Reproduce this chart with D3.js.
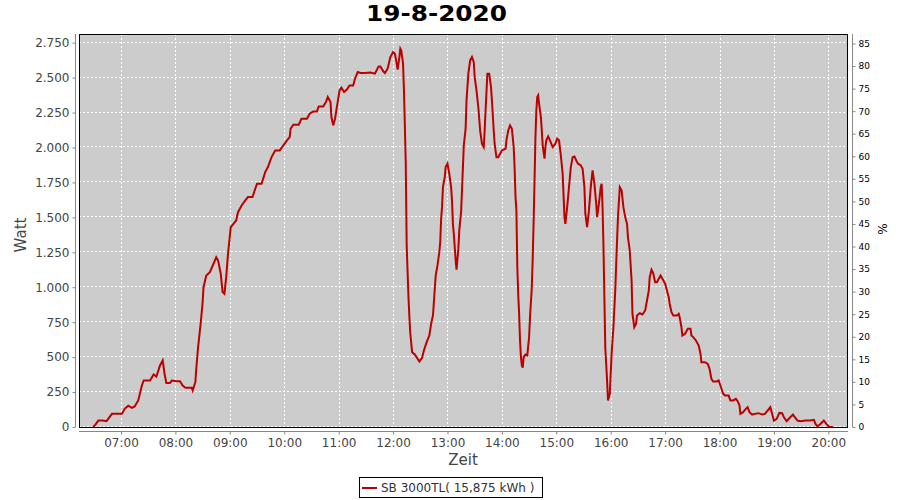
<!DOCTYPE html>
<html><head><meta charset="utf-8">
<script src="https://cdn.jsdelivr.net/npm/d3@7"></script>
<style>body{margin:0;background:#fff}svg{display:block}</style>
</head><body><svg id="c" width="900" height="500"></svg>
<script>
const times = ["06:29","06:31","06:35","06:40","06:44","06:50","07:01","07:04","07:08","07:12","07:15","07:19","07:23","07:25","07:32","07:36","07:39","07:43","07:46","07:48","07:50","07:54","07:56","08:01","08:05","08:08","08:11","08:18","08:19","08:22","08:23","08:25","08:28","08:30","08:31","08:34","08:38","08:42","08:45","08:47","08:50","08:52","08:54","08:56","08:58","09:01","09:04","09:07","09:09","09:13","09:17","09:20","09:25","09:28","09:30","09:35","09:39","09:42","09:46","09:50","09:55","09:59","10:03","10:06","10:07","10:10","10:16","10:19","10:25","10:28","10:32","10:36","10:38","10:43","10:46","10:48","10:51","10:52","10:54","10:56","10:58","11:01","11:03","11:06","11:09","11:12","11:16","11:18","11:21","11:24","11:29","11:35","11:40","11:44","11:46","11:49","11:51","11:54","11:57","12:00","12:02","12:04","12:05","12:07","12:08","12:09","12:11","12:12","12:13","12:14","12:15","12:17","12:18","12:19","12:21","12:24","12:27","12:29","12:32","12:34","12:37","12:40","12:42","12:44","12:45","12:47","12:49","12:51","12:52","12:53","12:54","12:55","12:57","12:58","13:00","13:02","13:04","13:05","13:06","13:07","13:09","13:10","13:12","13:13","13:15","13:16","13:18","13:20","13:21","13:23","13:25","13:27","13:29","13:30","13:32","13:34","13:36","13:38","13:40","13:41","13:42","13:44","13:46","13:48","13:49","13:51","13:52","13:54","13:56","13:58","14:00","14:04","14:05","14:07","14:09","14:11","14:13","14:14","14:15","14:16","14:17","14:18","14:19","14:20","14:21","14:22","14:23","14:24","14:26","14:28","14:30","14:31","14:33","14:34","14:35","14:36","14:37","14:38","14:39","14:40","14:41","14:43","14:44","14:45","14:47","14:48","14:49","14:51","14:53","14:56","14:59","15:01","15:03","15:05","15:07","15:09","15:10","15:12","15:14","15:16","15:18","15:20","15:22","15:24","15:27","15:29","15:31","15:32","15:34","15:36","15:38","15:40","15:42","15:44","15:45","15:47","15:49","15:50","15:51","15:52","15:54","15:56","15:57","15:59","16:01","16:03","16:05","16:07","16:08","16:10","16:12","16:14","16:16","16:18","16:19","16:21","16:23","16:24","16:26","16:28","16:29","16:32","16:35","16:38","16:40","16:42","16:43","16:45","16:47","16:49","16:51","16:53","16:55","16:57","17:00","17:02","17:04","17:05","17:07","17:09","17:13","17:15","17:16","17:18","17:19","17:22","17:25","17:28","17:29","17:31","17:34","17:37","17:39","17:40","17:44","17:47","17:49","17:51","17:53","17:57","17:59","18:01","18:04","18:06","18:10","18:12","18:15","18:18","18:20","18:22","18:23","18:26","18:29","18:31","18:33","18:36","18:39","18:43","18:47","18:50","18:53","18:56","18:58","19:00","19:03","19:06","19:09","19:11","19:14","19:18","19:21","19:23","19:26","19:29","19:35","19:40","19:44","19:46","19:48","19:51","19:55","19:58","20:01","20:05"];
const watts = [0,10,46,46,42,94,94,130,152,137,147,190,297,333,333,376,361,440,476,381,314,314,333,328,328,297,281,281,261,321,417,571,750,893,1000,1084,1108,1168,1215,1192,1097,965,953,1072,1240,1430,1454,1478,1537,1585,1621,1645,1645,1705,1741,1741,1824,1860,1931,1979,1979,2015,2051,2074,2134,2163,2163,2206,2206,2242,2258,2258,2294,2294,2325,2361,2325,2218,2158,2206,2289,2409,2428,2397,2414,2444,2444,2492,2540,2533,2533,2536,2528,2580,2580,2547,2533,2564,2647,2683,2671,2600,2557,2647,2707,2695,2600,2409,2158,1884,1300,929,786,671,535,519,488,469,495,548,607,655,739,798,893,1084,1156,1251,1323,1490,1573,1716,1788,1860,1884,1812,1716,1621,1450,1383,1192,1125,1276,1407,1537,1693,2015,2134,2337,2528,2623,2647,2611,2504,2409,2289,2122,2027,2003,2122,2265,2528,2528,2432,2337,2122,2027,1931,1931,1955,1979,1991,2051,2122,2158,2134,2003,1860,1650,1550,1150,950,810,619,500,440,424,500,519,512,643,786,1000,1215,1466,1764,2074,2265,2361,2373,2313,2218,2122,2015,1920,2003,2051,2079,2051,2003,2027,2063,2051,1943,1812,1502,1454,1573,1716,1860,1931,1936,1907,1884,1872,1848,1716,1526,1430,1550,1716,1836,1741,1598,1502,1598,1716,1741,1573,1300,571,333,190,238,524,714,977,1335,1502,1716,1693,1573,1502,1454,1359,1263,1049,810,714,739,798,815,805,834,905,977,1072,1125,1097,1036,1036,1061,1084,1061,1025,977,929,882,822,798,798,810,786,714,655,667,703,703,655,643,619,583,524,464,464,452,416,345,326,326,333,297,238,225,225,190,190,201,185,154,94,106,130,142,106,89,94,99,89,94,118,142,94,46,58,101,99,70,42,70,89,70,46,42,46,46,51,20,5,20,46,20,0,0];
const yTicks = [0,250,500,750,1000,1250,1500,1750,2000,2250,2500,2750];
const pctTicks = [0,5,10,15,20,25,30,35,40,45,50,55,60,65,70,75,80,85];
const hourTicks = ["07:00","08:00","09:00","10:00","11:00","12:00","13:00","14:00","15:00","16:00","17:00","18:00","19:00","20:00"];
const xDomain = ["06:13:40","20:21:40"];
const wattMax = 2812, pctMax = 87.1;
const title = "19-8-2020", legendLabel = "SB 3000TL( 15,875 kWh )";

const parse = d3.timeParse("%H:%M"), parseS = d3.timeParse("%H:%M:%S");
const data = times.map((t,i)=>({t:parse(t), v:watts[i]}));
const L=79, R=848, T=34, B=427;
const svg = d3.select("#c");
const font = "'DejaVu Sans', sans-serif";
const x = d3.scaleTime().domain(xDomain.map(parseS)).range([L,R]);
const y = d3.scaleLinear().domain([0,wattMax]).range([B,T]);
const y2 = d3.scaleLinear().domain([0,pctMax]).range([B,T]);
const fmt = d3.formatLocale({decimal:",",thousands:".",grouping:[3],currency:["","€"]}).format(",d");

svg.append("rect").attr("x",L).attr("y",T).attr("width",R-L).attr("height",B-T).attr("fill","#cccccc");
const g = svg.append("g");
g.selectAll(".hg").data(yTicks).join("line")
  .attr("x1",L).attr("x2",R).attr("y1",d=>Math.round(y(d))-0.5).attr("y2",d=>Math.round(y(d))-0.5)
  .attr("stroke","#fff").attr("stroke-dasharray","2,2");
g.selectAll(".vg").data(hourTicks.map(parse)).join("line")
  .attr("y1",T).attr("y2",B).attr("x1",d=>Math.round(x(d))+0.5).attr("x2",d=>Math.round(x(d))+0.5)
  .attr("stroke","#fff").attr("stroke-dasharray","2,2");
svg.append("path").datum(data)
  .attr("d", d3.line().x(d=>x(d.t)).y(d=>y(d.v)))
  .attr("fill","none").attr("stroke","#bb0000").attr("stroke-width",2).attr("stroke-linejoin","miter");
svg.append("rect").attr("x",L+0.5).attr("y",T+0.5).attr("width",R-L-1).attr("height",B-T).attr("fill","none").attr("stroke","#000");

const ax = svg.append("g").attr("transform","translate(75.5,0)")
  .call(d3.axisLeft(y).tickValues(yTicks).tickFormat(fmt).tickSize(3).tickPadding(3));
ax.select(".domain").attr("stroke","#888").attr("d",`M0,${T}V${B}`);
ax.selectAll(".tick line").attr("stroke","#888");
ax.selectAll("text").attr("font-family",font).attr("font-size",12).attr("fill","#444");
const bx = svg.append("g").attr("transform","translate(0,431.5)")
  .call(d3.axisBottom(x).tickValues(hourTicks.map(parse)).tickFormat(d3.timeFormat("%H:%M")).tickSize(3).tickPadding(4));
bx.select(".domain").attr("stroke","#888").attr("d",`M${L},0H${R}`);
bx.selectAll(".tick line").attr("stroke","#888");
bx.selectAll("text").attr("font-family",font).attr("font-size",12).attr("fill","#444");
const rx = svg.append("g").attr("transform","translate(852.5,0)")
  .call(d3.axisRight(y2).tickValues(pctTicks).tickSize(3).tickPadding(3));
rx.select(".domain").attr("stroke","#888").attr("d",`M0,${T}V${B}`);
rx.selectAll(".tick line").attr("stroke","#888");
rx.selectAll("text").attr("font-family",font).attr("font-size",9).attr("fill","#000");

svg.append("text").attr("x",436.5).attr("y",21).attr("text-anchor","middle")
  .attr("font-family",font).attr("font-weight","bold").attr("font-size",21).attr("fill","#000")
  .attr("textLength",141).attr("lengthAdjust","spacingAndGlyphs").text(title);
svg.append("text").attr("transform","translate(26,235) rotate(-90)").attr("text-anchor","middle")
  .attr("font-family",font).attr("font-size",15).attr("fill","#444").text("Watt");
svg.append("text").attr("x",463).attr("y",465).attr("text-anchor","middle")
  .attr("font-family",font).attr("font-size",15).attr("fill","#444").text("Zeit");
svg.append("text").attr("transform","translate(887,229) rotate(-90)").attr("text-anchor","middle")
  .attr("font-family",font).attr("font-size",12).attr("fill","#000").text("%");
svg.append("rect").attr("x",359.5).attr("y",477.5).attr("width",183).attr("height",20).attr("fill","#fff").attr("stroke","#000");
svg.append("line").attr("x1",362).attr("x2",377).attr("y1",488).attr("y2",488).attr("stroke","#bb0000").attr("stroke-width",2);
svg.append("text").attr("x",381).attr("y",492).attr("font-family",font).attr("font-size",12).attr("fill","#333").text(legendLabel);
</script></body></html>
